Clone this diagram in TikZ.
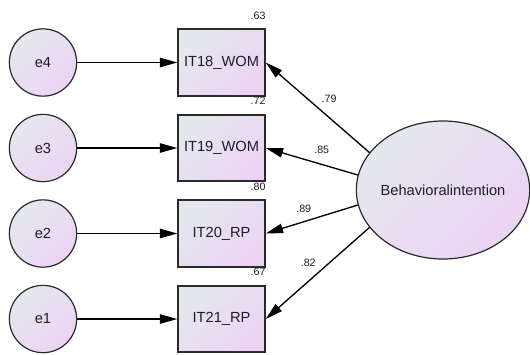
\documentclass[tikz,border=0pt]{standalone}
\usepackage{fontspec}
\setmainfont{Liberation Sans}
\usetikzlibrary{arrows.meta,shapes.geometric}

\definecolor{shadeA}{HTML}{E4E8EE}
\definecolor{shadeB}{HTML}{ECD3F3}
\definecolor{inkline}{HTML}{2A2A2A}
\definecolor{inktext}{HTML}{1E1E2A}

\tikzset{
  gradfill/.style={top color=shadeA, bottom color=shadeB, shading angle=45},
  errcirc/.style={circle, draw=inkline, line width=0.9pt, gradfill,
    minimum size=50.5pt, inner sep=0pt,
    font=\fontsize{11}{13}\selectfont, text=inktext},
  obsbox/.style={rectangle, draw=inkline, line width=1.3pt, gradfill,
    minimum width=65pt, minimum height=50pt, inner sep=0pt,
    font=\fontsize{11}{13}\selectfont, text=inktext},
  latent/.style={ellipse, draw=inkline, line width=0.9pt, gradfill,
    minimum width=130pt, minimum height=103.5pt, inner sep=0pt},
  mtext/.style={font=\fontsize{11}{13}\selectfont, text=inktext},
  lab/.style={font=\fontsize{8}{9.5}\selectfont, text=inktext, inner sep=0pt},
  path/.style={draw=black, line width=1pt,
    -{Triangle[length=13pt, width=7pt]}}
}

\begin{document}
\begin{tikzpicture}[x=0.75pt, y=-0.75pt]
  \useasboundingbox (0,0) rectangle (530,354);

  % error terms
  \node[errcirc] (e4) at (43,62.5)  {e4};
  \node[errcirc] (e3) at (43,148)   {e3};
  \node[errcirc] (e2) at (43,233.5) {e2};
  \node[errcirc] (e1) at (43,319)   {e1};

  % observed indicators
  \node[obsbox] (b1) at (221.5,62.5)  {IT18\_WOM};
  \node[obsbox] (b2) at (221.5,148)   {IT19\_WOM};
  \node[obsbox] (b3) at (221.5,233.5) {IT20\_RP};
  \node[obsbox] (b4) at (221.5,319)   {IT21\_RP};

  % squared multiple correlations
  \node[lab, anchor=base east] (r1) at ([shift={(0,-9)}]b1.north east) {.63};
  \node[lab, anchor=base east] (r2) at ([shift={(0,-9)}]b2.north east) {.72};
  \node[lab, anchor=base east] (r3) at ([shift={(0,-9)}]b3.north east) {.80};
  \node[lab, anchor=base east] (r4) at ([shift={(0,-9)}]b4.north east) {.67};

  % latent factor
  \node[latent] (bi) at (443,190) {};
  \node[mtext] (bit) at (bi.center) {Behavioralintention};

  % error paths
  \draw[path] (e4) -- (b1);
  \draw[path] (e3) -- (b2);
  \draw[path] (e2) -- (b3);
  \draw[path] (e1) -- (b4);

  % factor loadings
  \draw[path] (bi.153) -- node[lab, pos=0.5, xshift=8.6pt, yshift=6.8pt] {.79} (b1.east);
  \draw[path] (bi.170) -- node[lab, pos=0.5, xshift=7.5pt, yshift=8.6pt] {.85} (b2.east);
  \draw[path] (bi.190) -- node[lab, pos=0.5, xshift=-6pt, yshift=7.9pt] {.89} (b3.east);
  \draw[path] (bi.207) -- node[lab, pos=0.5, xshift=-7pt, yshift=7.5pt] {.82} (b4.east);
\end{tikzpicture}
\end{document}
